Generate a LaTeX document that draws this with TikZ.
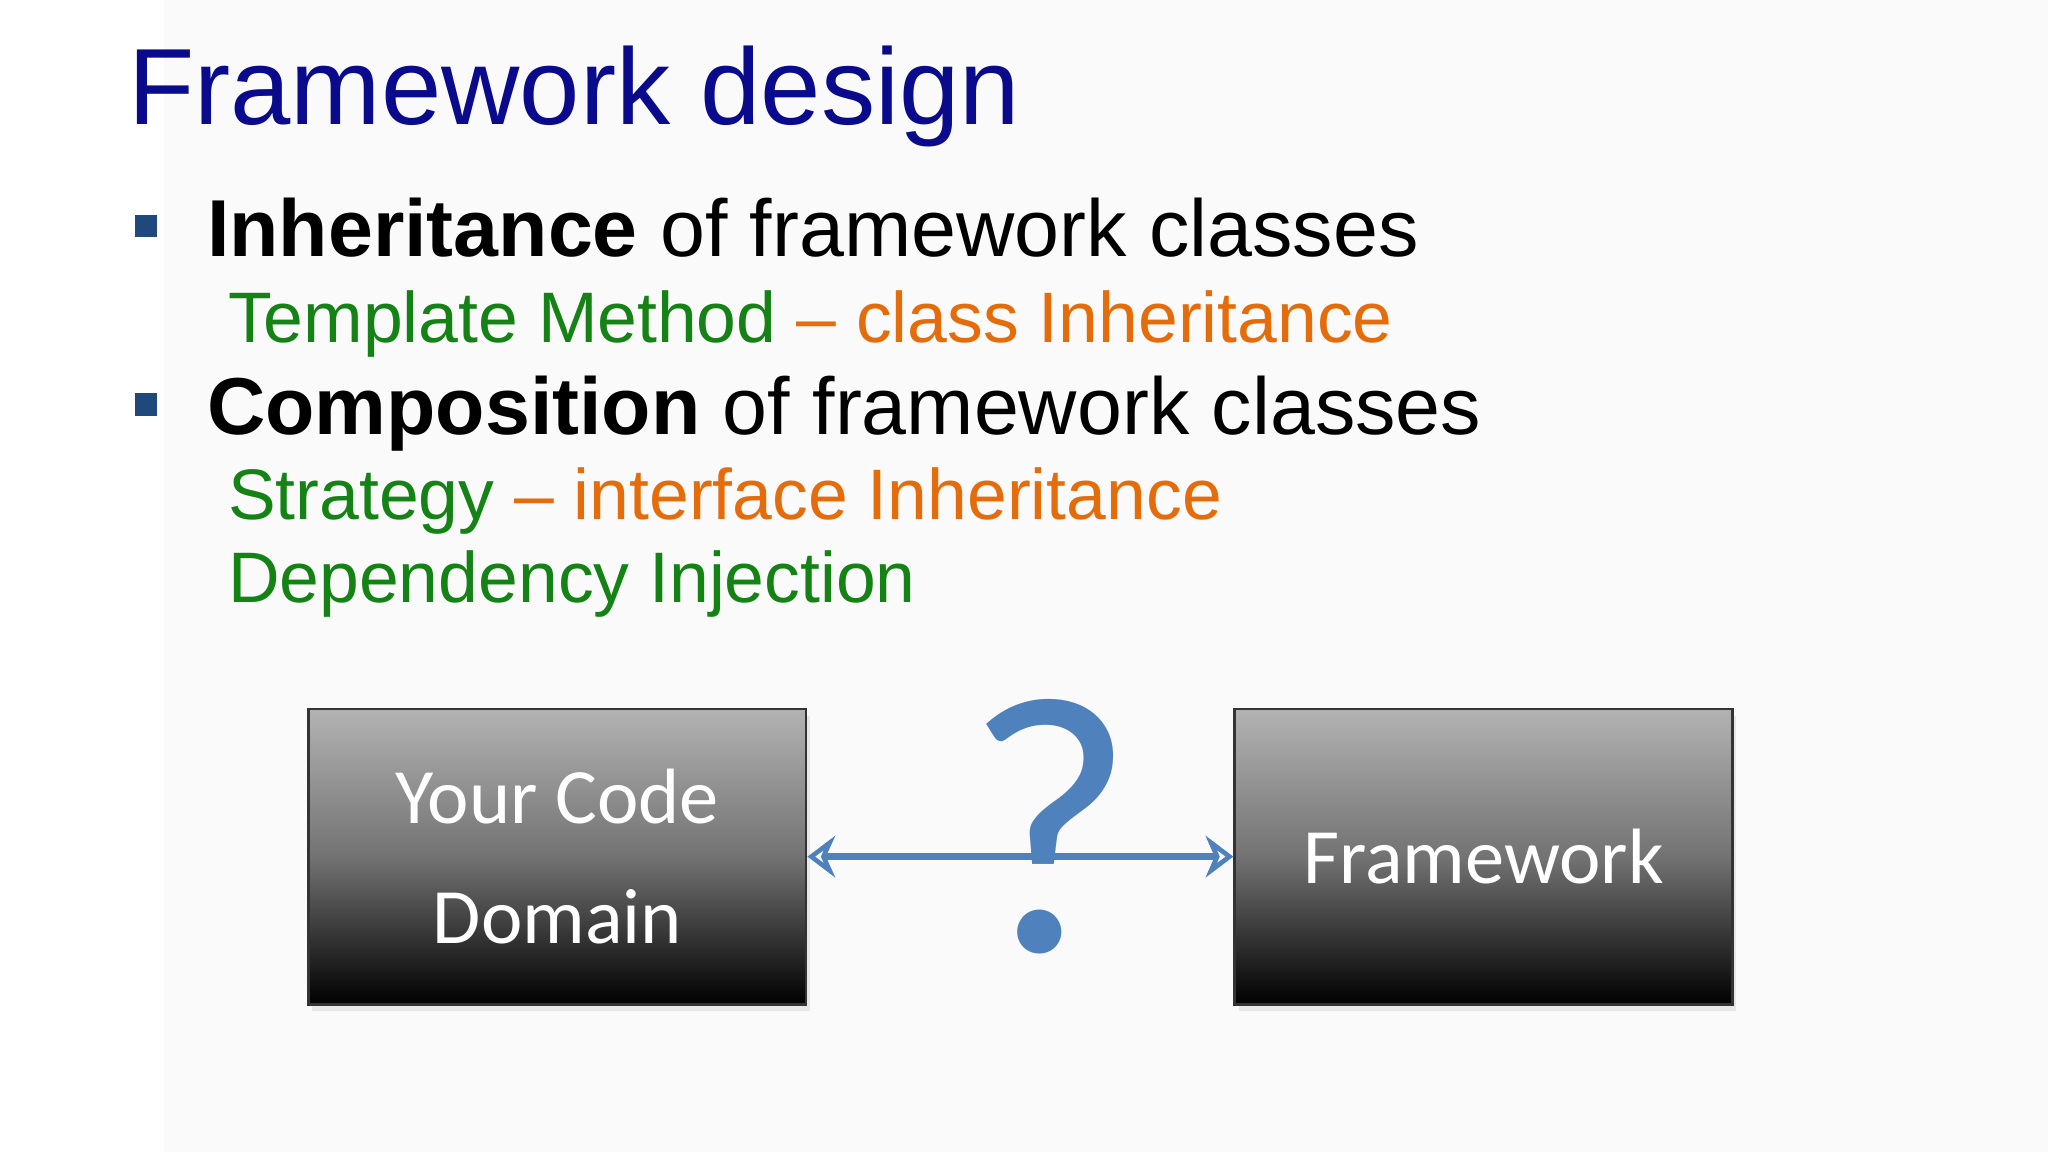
\documentclass[tikz,border=0pt]{standalone}
\usepackage{fontspec}
\setmainfont{Liberation Sans}
\newfontfamily\calib{Carlito}
\usetikzlibrary{arrows.meta,shadows}
\definecolor{ttl}{RGB}{10,10,140}
\definecolor{grn}{RGB}{20,130,20}
\definecolor{org}{RGB}{228,108,10}
\definecolor{bul}{RGB}{31,73,125}
\definecolor{qblue}{RGB}{79,129,189}
\tikzset{
 txt/.style={anchor=base west,inner sep=0pt},
 bullet/.style={fill=bul,minimum size=0.17cm,inner sep=0pt},
 gbox/.style={draw=black!80,line width=0.6pt,top color=black!30,bottom color=black,middle color=black!55,shading angle=0,minimum width=3.79cm,minimum height=2.25cm,text=white,font=\calib\fontsize{17}{26}\selectfont,align=center,drop shadow={opacity=0.15,shadow xshift=0.03cm,shadow yshift=-0.05cm}},
 link/.style={draw=qblue,line width=1.5pt,{Stealth[length=6pt,width=9pt,inset=2pt,open]}-{Stealth[length=6pt,width=9pt,open]}}
}
\begin{document}
\begin{tikzpicture}[y=-1cm]
\fill[white] (0,0) rectangle (15.6,8.775);
\fill[black!2] (1.25,0) rectangle (15.6,8.775);
\node[txt,text=ttl,font=\fontsize{23.5}{28}\selectfont] (title) at (0.97,0.95) {Framework design};
\node[bullet] (b1) at (1.11,1.72) {};
\node[txt,font=\fontsize{17.5}{21}\selectfont] (l1) at (1.57,1.95) {\textbf{Inheritance} of framework classes};
\node[txt,font=\fontsize{15.5}{19}\selectfont] (l2) at (1.73,2.61) {\textcolor{grn}{Template Method} \textcolor{org}{– class Inheritance}};
\node[bullet] (b2) at (1.11,3.08) {};
\node[txt,font=\fontsize{17.5}{21}\selectfont] (l3) at (1.57,3.31) {\textbf{Composition} of framework classes};
\node[txt,font=\fontsize{15.5}{19}\selectfont] (l4) at (1.73,3.96) {\textcolor{grn}{Strategy} \textcolor{org}{– interface Inheritance}};
\node[txt,font=\fontsize{15.5}{19}\selectfont,text=grn] (l5) at (1.73,4.59) {Dependency Injection};
\node[gbox] (yc) at (4.245,6.525) {Your Code\\Domain};
\node[gbox] (fw) at (11.3,6.525) {Framework};
\node[text=qblue,font=\calib\fontsize{80}{80}\selectfont,inner sep=0pt] (q) at (8.0,6.3) {?};
\draw[link] (yc.east) -- (fw.west);
\end{tikzpicture}
\end{document}
